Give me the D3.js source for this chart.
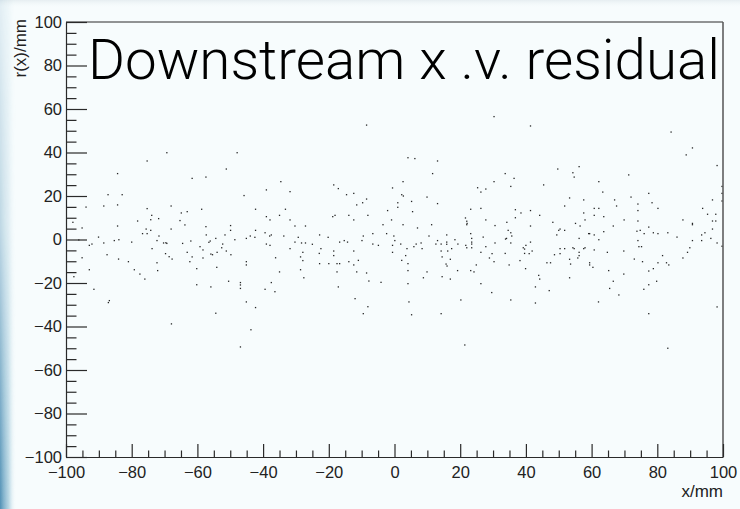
<!DOCTYPE html>
<html>
<head>
<meta charset="utf-8">
<script src="https://cdn.jsdelivr.net/npm/d3@7"></script>
<style>
  html, body { margin: 0; padding: 0; background: #f7fcfd; }
  svg { display: block; }
</style>
</head>
<body>
<svg id="chart" width="740" height="509"></svg>
<script>
// Downstream track position x (mm) and the fit residual r(x) (mm)
const xPos = [
  // x < -66
  -69.3,-75.3,-84.3,-87.2,-82.9,-84.3,-93.9,-88.5,-68.0,-75.3,
  -73.9,-78.2,-74.2,-71.8,-97.9,-84.3,-95.1,-75.6,-74.2,-68.0,
  -76.7,-75.3,-90.1,-71.7,-96.1,-85.3,-83.9,-80.0,-72.3,-70.3,
  -69.6,-69.3,-88.5,-92.1,-92.9,-73.8,-87.5,-69.7,-68.6,-67.7,
  -95.1,-84.0,-81.0,-72.3,-92.9,-79.2,-72.1,-77.5,-76.0,-97.6,
  -91.5,-86.8,-87.1,-67.9,
  // -66 .. -33
  -47.9,-51.2,-61.6,-57.4,-34.6,-39.0,-45.8,-64.9,-63.1,-58.7,
  -42.3,-35.0,-39.0,-37.9,-33.2,-65.3,-63.8,-57.4,-49.9,-49.9,
  -42.3,-39.4,-57.3,-51.6,-54.4,-56.1,-56.5,-48.6,-45.1,-43.9,
  -42.5,-37.5,-38.0,-33.7,-62.0,-64.5,-52.3,-39.0,-37.9,-59.2,
  -52.6,-58.3,-51.2,-63.1,-55.9,-55.4,-54.0,-49.8,-61.6,-58.3,
  -36.2,-62.3,-45.1,-45.1,-54.1,-60.2,-35.0,-50.5,-46.9,-46.9,
  -60.2,-37.5,-55.9,-46.9,-39.4,-36.4,-45.1,-42.3,-54.4,-43.7,
  -46.9,
  // -33 .. 0
  -8.5,-31.8,-18.5,-17.1,-14.6,-12.4,-8.5,-9.7,-11.5,-0.6,
  -2.1,-18.8,-18.1,-13.9,-8.1,-12.4,-0.9,-31.8,-30.3,-27.1,
  -3.5,-22.8,-20.2,-29.3,-9.5,-6.6,-2.4,-0.2,0.1,-30.3,
  -28.3,-27.1,-25.0,-16.7,-15.3,-14.3,-9.9,-6.6,-4.9,-0.6,
  -31.8,-22.4,-22.9,-27.9,-18.5,-12.4,-0.6,-28.6,-18.5,-27.9,
  -11.0,-13.9,-22.8,-20.0,-17.5,-16.7,-12.4,-28.6,-17.5,-11.5,
  -8.5,-27.6,-7.8,-4.1,-17.1,-12.0,-8.1,-9.5,
  // 0 .. 34
  30.3,4.1,6.2,13.1,11.6,2.6,30.3,33.7,25.3,26.3,
  27.8,2.2,2.7,9.9,1.0,5.2,13.1,1.0,5.5,23.2,
  26.3,21.6,22.0,22.1,22.0,27.8,2.6,11.3,30.6,7.0,
  10.5,15.9,23.2,23.5,27.0,33.8,13.1,18.4,15.9,23.5,
  1.9,6.6,8.1,12.6,14.2,15.9,19.3,21.7,23.5,30.6,
  3.8,5.9,8.4,17.4,22.0,23.5,27.8,14.2,16.2,26.3,
  33.7,3.4,14.5,17.0,29.7,28.9,2.2,30.3,4.1,15.7,
  16.0,24.9,4.1,19.2,23.2,24.2,9.9,8.8,14.5,17.0,
  4.1,26.3,29.6,20.2,4.4,5.2,14.2,21.4,
  // 34 .. 67
  41.4,49.7,56.2,54.3,54.7,36.4,35.4,45.4,62.2,63.4,
  53.3,57.6,67.0,51.8,36.8,41.4,38.5,60.8,62.2,57.6,
  60.8,44.2,63.7,36.8,58.0,48.2,55.1,34.2,56.5,66.6,
  41.4,34.6,50.4,50.0,51.8,63.7,35.4,35.7,49.4,59.1,
  59.4,60.8,56.2,62.2,34.1,41.4,35.4,40.0,39.2,39.6,
  50.4,51.8,54.3,54.7,57.6,58.0,60.8,64.8,41.9,39.6,
  41.0,48.7,50.4,56.2,56.2,55.8,53.3,38.2,46.4,47.5,
  53.6,59.4,59.4,60.4,34.9,39.9,65.2,43.9,44.2,53.3,
  66.6,42.9,65.5,47.1,35.4,42.9,62.1,
  // 67 .. 100
  84.2,90.7,88.8,98.2,71.3,77.4,72.0,78.4,74.1,67.6,
  80.2,74.1,93.8,96.8,95.3,97.8,74.1,69.9,87.8,96.8,
  97.8,90.7,90.7,77.4,96.8,73.8,74.8,78.8,80.2,83.2,
  76.0,94.5,93.5,86.0,96.3,74.1,90.7,93.5,98.2,74.4,
  75.2,89.9,69.8,89.2,81.6,87.8,73.0,75.5,80.2,82.8,
  83.5,78.8,77.4,69.8,79.8,77.4,75.9,68.3,77.4,98.2,
  83.2,99.7,99.7,99.7,99.7
];

const resid = [
  39.9,36.1,30.3,20.6,20.6,15.9,14.9,15.4,15.4,14.2,
  11.1,8.5,9.1,9.6,7.9,6.2,5.3,4.8,4.2,4.8,
  2.7,2.7,1.1,1.6,-0.2,-0.5,-0.1,-1.2,-0.5,-1.6,
  -1.5,-1.8,-1.6,-2.1,-2.7,-4.2,-7.0,-6.5,-7.9,-9.0,
  -8.4,-9.0,-10.2,-10.7,-13.9,-13.9,-14.3,-15.9,-18.2,-17.1,
  -22.9,-28.1,-29.0,-38.8,

  39.9,32.4,28.1,28.7,26.6,22.8,20.2,12.2,12.8,13.9,
  13.9,11.1,10.5,9.0,13.9,8.7,6.7,5.9,6.4,4.2,
  4.2,3.1,2.1,2.1,0.5,-0.7,-1.3,-0.1,0.5,1.6,
  1.0,2.1,1.6,1.6,-0.7,-1.8,-2.1,-2.1,-2.7,-3.3,
  -3.8,-4.8,-5.3,-5.9,-6.7,-7.0,-5.9,-7.0,-8.0,-8.5,
  -8.4,-10.2,-10.2,-11.7,-12.8,-13.4,-14.9,-19.2,-19.8,-20.9,
  -20.8,-19.8,-21.8,-22.5,-22.9,-24.0,-28.7,-31.3,-33.9,-41.5,
  -49.4,

  52.6,22.0,25.1,23.4,20.6,21.2,18.6,16.9,15.9,23.7,
  13.3,10.5,11.1,11.1,11.1,9.0,9.0,9.0,6.2,6.2,
  6.8,2.1,1.0,1.0,1.6,2.7,2.7,1.6,-0.5,-1.2,
  -1.6,-1.6,-2.2,-1.2,-0.5,-1.2,-0.5,-2.1,-2.7,-2.7,
  -4.2,-4.2,-6.4,-5.9,-5.3,-5.3,-5.9,-8.0,-7.4,-9.7,
  -9.6,-10.2,-11.1,-11.1,-11.1,-11.1,-11.7,-13.9,-14.9,-14.9,
  -15.4,-17.6,-19.1,-19.7,-21.8,-27.2,-30.9,-34.1,

  56.5,37.6,37.2,36.1,30.3,26.6,26.6,30.3,23.8,21.8,
  23.2,20.6,20.0,19.5,16.9,17.5,16.5,14.8,12.8,13.9,
  14.3,9.9,8.4,7.4,6.8,9.0,6.8,6.8,6.4,5.3,
  1.6,2.1,2.7,0.5,1.1,0.2,-0.5,-0.1,-1.2,-1.2,
  -2.1,-2.1,-1.6,-2.1,-2.1,-2.2,-2.1,-2.7,-2.1,-1.6,
  -4.2,-3.3,-4.2,-4.2,-3.8,-3.8,-3.3,-5.3,-5.3,-5.9,
  -6.4,-7.4,-8.0,-9.1,-6.5,-8.5,-9.6,-10.2,-11.1,-11.3,
  -12.2,-11.7,-14.3,-14.3,-14.3,-14.9,-14.9,-17.6,-17.1,-18.2,
  -20.3,-20.3,-24.4,-27.8,-28.7,-34.6,-34.1,-48.5,

  52.2,32.4,33.5,30.7,28.7,28.1,24.4,25.1,26.6,21.8,
  19.1,18.2,18.2,15.4,13.7,13.3,12.2,14.3,14.3,12.2,
  11.1,11.1,10.5,10.0,9.0,7.9,7.4,7.9,6.2,6.2,
  6.2,4.2,4.8,4.2,4.2,3.6,3.1,1.6,2.1,2.7,
  2.7,2.1,0.5,-0.1,0.5,-1.2,-1.6,-2.7,-3.8,-4.4,
  -4.2,-4.2,-3.8,-4.2,-4.2,-3.8,-4.8,-5.9,-5.3,-6.4,
  -6.5,-7.0,-6.5,-5.9,-7.4,-8.5,-9.1,-9.7,-10.7,-10.7,
  -11.3,-10.7,-11.7,-12.8,-11.7,-13.4,-14.3,-16.5,-18.2,-17.6,
  -19.2,-21.8,-22.5,-23.5,-27.8,-29.2,-28.7,

  49.4,42.1,38.9,34.0,29.7,21.2,19.5,16.9,16.3,15.4,
  14.3,13.3,14.3,18.2,11.6,11.6,8.5,9.0,9.0,8.5,
  8.5,7.4,6.8,5.7,4.8,3.8,4.2,3.1,2.7,3.1,
  2.7,3.1,2.1,1.1,0.5,-0.5,-0.5,-0.5,-1.6,-3.3,
  -3.3,-3.8,-5.3,-5.9,-7.4,-8.5,-9.0,-10.2,-10.7,-10.7,
  -11.7,-13.4,-14.5,-15.9,-19.2,-20.8,-22.9,-25.5,-34.1,-31.0,
  -50.0,24.4,21.2,17.7,-3.1
];

// Axis ticks and labels
const xMajor = [-100, -80, -60, -40, -20, 0, 20, 40, 60, 80, 100];
const yMajor = [-100, -80, -60, -40, -20, 0, 20, 40, 60, 80, 100];
const titleText = "Downstream x .v. residual";
const xTitle = "x/mm";
const yTitle = "r(x)/mm";

const svg = d3.select("#chart");
const W = 740, H = 509;
const plot = { left: 66, right: 723, top: 22, bottom: 457 };
const fontFam = "'Liberation Sans', Arial, Helvetica, sans-serif";
const bg = "#f7fcfd";

// canvas background with soft edge shading
const defs = svg.append("defs");
const gH = defs.append("linearGradient").attr("id", "edgeH").attr("x1", 0).attr("x2", 1).attr("y1", 0).attr("y2", 0);
gH.append("stop").attr("offset", 0).attr("stop-color", "#4f8fb4").attr("stop-opacity", 1);
gH.append("stop").attr("offset", 0.55).attr("stop-color", "#8dbdd3").attr("stop-opacity", 0.6);
gH.append("stop").attr("offset", 1).attr("stop-color", bg).attr("stop-opacity", 0);
const gV = defs.append("linearGradient").attr("id", "edgeV").attr("x1", 0).attr("x2", 0).attr("y1", 0).attr("y2", 1);
gV.append("stop").attr("offset", 0).attr("stop-color", "#fff").attr("stop-opacity", 0.12);
gV.append("stop").attr("offset", 0.45).attr("stop-color", "#fff").attr("stop-opacity", 0.35);
gV.append("stop").attr("offset", 1).attr("stop-color", "#fff").attr("stop-opacity", 1);
defs.append("mask").attr("id", "edgeMask")
  .append("rect").attr("x", 0).attr("y", 0).attr("width", 16).attr("height", H).attr("fill", "url(#edgeV)");
const gT = defs.append("linearGradient").attr("id", "edgeT").attr("x1", 0).attr("x2", 0).attr("y1", 0).attr("y2", 1);
gT.append("stop").attr("offset", 0).attr("stop-color", "#e6eef1").attr("stop-opacity", 1);
gT.append("stop").attr("offset", 1).attr("stop-color", bg).attr("stop-opacity", 0);

svg.append("rect").attr("width", W).attr("height", H).attr("fill", bg);
svg.append("rect").attr("x", 0).attr("y", 0).attr("width", W).attr("height", 8).attr("fill", "url(#edgeT)");
svg.append("rect").attr("x", 0).attr("y", 0).attr("width", 16).attr("height", H)
  .attr("fill", "url(#edgeH)").attr("mask", "url(#edgeMask)");

const x = d3.scaleLinear().domain([-100, 100]).range([plot.left, plot.right]);
const y = d3.scaleLinear().domain([-100, 100]).range([plot.bottom, plot.top]);

// minor ticks every 5 mm
const minorVals = d3.range(-100, 100.1, 5).filter(v => v % 20 !== 0);

const axisColor = "#2a2a2a";

// points
const pts = d3.zip(xPos, resid);
svg.append("g").selectAll("rect").data(pts).join("rect")
  .attr("x", d => x(d[0]) - 0.65)
  .attr("y", d => y(d[1]) - 0.65)
  .attr("width", 1.3).attr("height", 1.3)
  .attr("fill", "#262626");

// frame (top & right)
svg.append("line").attr("x1", plot.left).attr("x2", plot.right).attr("y1", plot.top).attr("y2", plot.top)
  .attr("stroke", axisColor).attr("stroke-width", 1);
svg.append("line").attr("x1", plot.right).attr("x2", plot.right).attr("y1", plot.top).attr("y2", plot.bottom)
  .attr("stroke", "#555").attr("stroke-width", 1.5);

const fmt = d => (d < 0 ? "\u2212" + Math.abs(d) : String(d));

// x axis
const gx = svg.append("g").attr("transform", `translate(0,${plot.bottom})`);
gx.call(d3.axisBottom(x).tickValues(xMajor).tickSize(-13).tickSizeOuter(0).tickPadding(9).tickFormat(fmt));
const gxm = svg.append("g").attr("transform", `translate(0,${plot.bottom})`);
gxm.call(d3.axisBottom(x).tickValues(minorVals).tickSize(-6.5).tickSizeOuter(0).tickFormat(""));
gxm.select(".domain").remove();

// y axis
const gy = svg.append("g").attr("transform", `translate(${plot.left},0)`);
gy.call(d3.axisLeft(y).tickValues(yMajor).tickSize(-21).tickSizeOuter(0).tickPadding(4).tickFormat(fmt));
const gym = svg.append("g").attr("transform", `translate(${plot.left},0)`);
gym.call(d3.axisLeft(y).tickValues(minorVals).tickSize(-10.5).tickSizeOuter(0).tickFormat(""));
gym.select(".domain").remove();

svg.selectAll(".tick line").attr("stroke", axisColor).attr("stroke-width", 1.2);
svg.selectAll(".domain").attr("stroke", axisColor).attr("stroke-width", 1.2);
svg.selectAll(".tick text")
  .attr("font-family", fontFam).attr("font-size", 16.5).attr("fill", "#222");

// axis titles
svg.append("text").attr("x", plot.right).attr("y", 497)
  .attr("text-anchor", "end").attr("font-family", fontFam).attr("font-size", 17)
  .attr("fill", "#222").text(xTitle);
svg.append("text").attr("transform", "translate(26,19) rotate(-90)")
  .attr("text-anchor", "end").attr("font-family", fontFam).attr("font-size", 17)
  .attr("fill", "#222").text(yTitle);

// title, drawn in a light weight
svg.append("text").attr("x", 88).attr("y", 79)
  .attr("font-family", "Roboto, 'Liberation Sans', Arial, sans-serif")
  .attr("font-weight", 300).attr("font-size", 55)
  .attr("textLength", 632).attr("lengthAdjust", "spacingAndGlyphs")
  .attr("fill", "#000").text(titleText);
</script>
</body>
</html>
